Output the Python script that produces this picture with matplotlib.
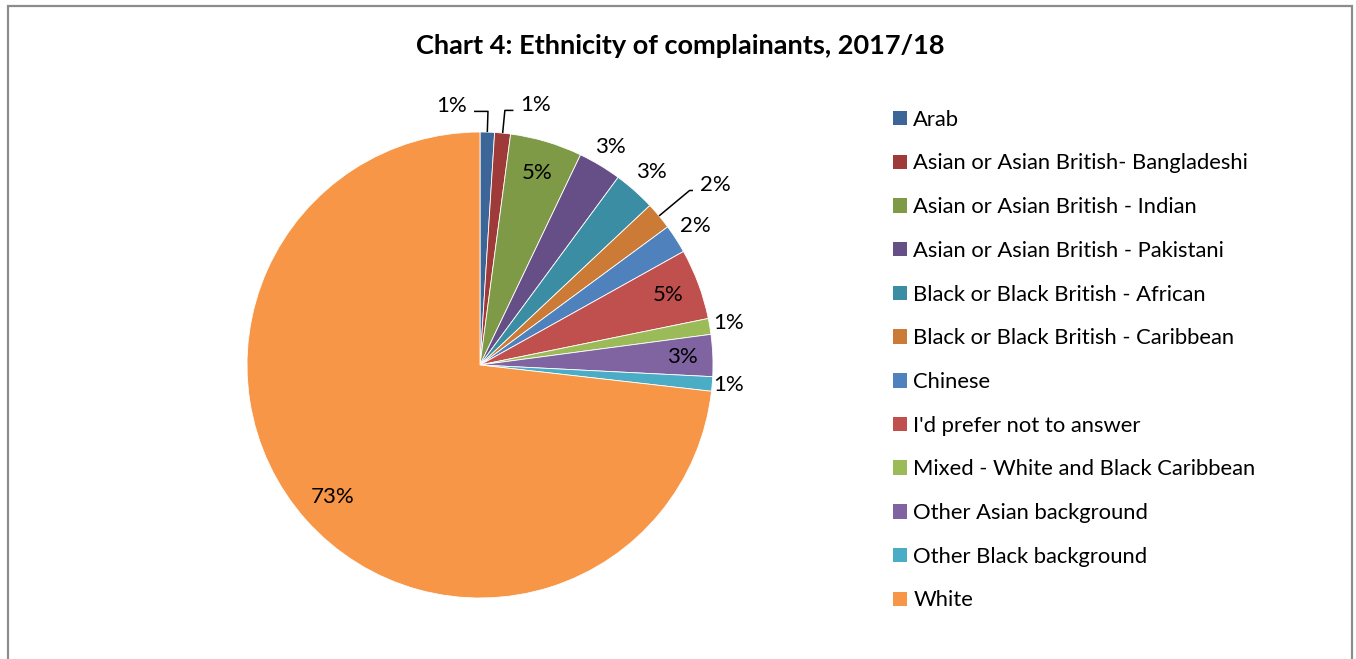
import numpy as np
import matplotlib
matplotlib.use("Agg")
import matplotlib.pyplot as plt
from matplotlib.patches import Rectangle

plt.rcParams['font.family'] = ['Lato', 'DejaVu Sans']

# share of complainants (%)
groups = ["Arab",
          "Asian or Asian British- Bangladeshi",
          "Asian or Asian British - Indian",
          "Asian or Asian British - Pakistani",
          "Black or Black British - African",
          "Black or Black British - Caribbean",
          "Chinese",
          "I'd prefer not to answer",
          "Mixed - White and Black Caribbean",
          "Other Asian background",
          "Other Black background",
          "White"]
shares = [1.0, 1.1, 5.0, 3.0, 2.9, 1.9, 2.0, 4.9, 1.1, 2.9, 1.0, 73.2]

colours = ["#3C6598", "#9E3B38", "#7E9A47", "#664F86", "#3A8DA3", "#CB7B36",
           "#4F81BD", "#C0504D", "#9BBB59", "#8064A2", "#4BACC6", "#F79646"]

# label placement: radius, angle shift (deg), leader line?
lab_r = [1.117, 1.14, 0.86, 1.09, 1.11, 1.27, 1.10, 0.86, 1.08, 0.87, 1.07, 0.85]
lab_shift = [8.0, -6.5, 0, 0, 0, -2.4, 0, 0, 0, 0, 0, 0]
leader = [True, True, False, False, False, True, False, False, False, False, False, False]

W, H = 1356, 659
fig = plt.figure(figsize=(W / 100, H / 100), dpi=100)

# outer grey frame
fig.patches.append(Rectangle((8 / W, -0.05), (1352 - 8) / W, 1.05 - 6 / H,
                             transform=fig.transFigure, fill=False,
                             edgecolor="#8c8c8c", lw=1.6))

fig.text(680 / W, 1 - 46 / H, "Chart 4: Ethnicity of complainants, 2017/18",
         ha="center", va="center", fontsize=19.5, fontweight="bold")

# pie axes: centre (480,365), radius 233 px
cx, cy, rad = 480, 365, 233
ax = fig.add_axes([(cx - rad) / W, (H - cy - rad) / H, 2 * rad / W, 2 * rad / H])
wedges, _ = ax.pie(shares, colors=colours, startangle=90, counterclock=False,
                   radius=1.0, wedgeprops=dict(edgecolor="white", linewidth=0.6))
ax.set_xlim(-1, 1)
ax.set_ylim(-1, 1)
ax.set_aspect("equal")
ax.axis("off")

for w, v, r, ds, ld in zip(wedges, shares, lab_r, lab_shift, leader):
    mid = np.deg2rad((w.theta1 + w.theta2) / 2)
    a = mid + np.deg2rad(ds)
    lx, ly = r * np.cos(a), r * np.sin(a)
    ax.text(lx, ly, "%.0f%%" % v, ha="center", va="center", fontsize=16,
            clip_on=False)
    if ld:
        x0, y0 = np.cos(mid), np.sin(mid)
        y1 = ly - 0.022
        x1 = x0 + (y1 - y0) / np.tan(mid)
        x2 = lx - 0.095 if lx > x1 else lx + 0.095
        ax.plot([x0, x1, x2], [y0, y1, y1], color="black", lw=1.1,
                clip_on=False, solid_capstyle="butt")

leg = fig.legend(wedges, groups, loc="upper left",
                 bbox_to_anchor=(884 / W, 1 - 101 / H), frameon=False,
                 fontsize=15.8, handlelength=0.64, handleheight=0.64,
                 handletextpad=0.3, labelspacing=1.08, borderaxespad=0)
for h in leg.legend_handles:
    h.set_edgecolor("none")

fig.savefig("out.png", dpi=100)
